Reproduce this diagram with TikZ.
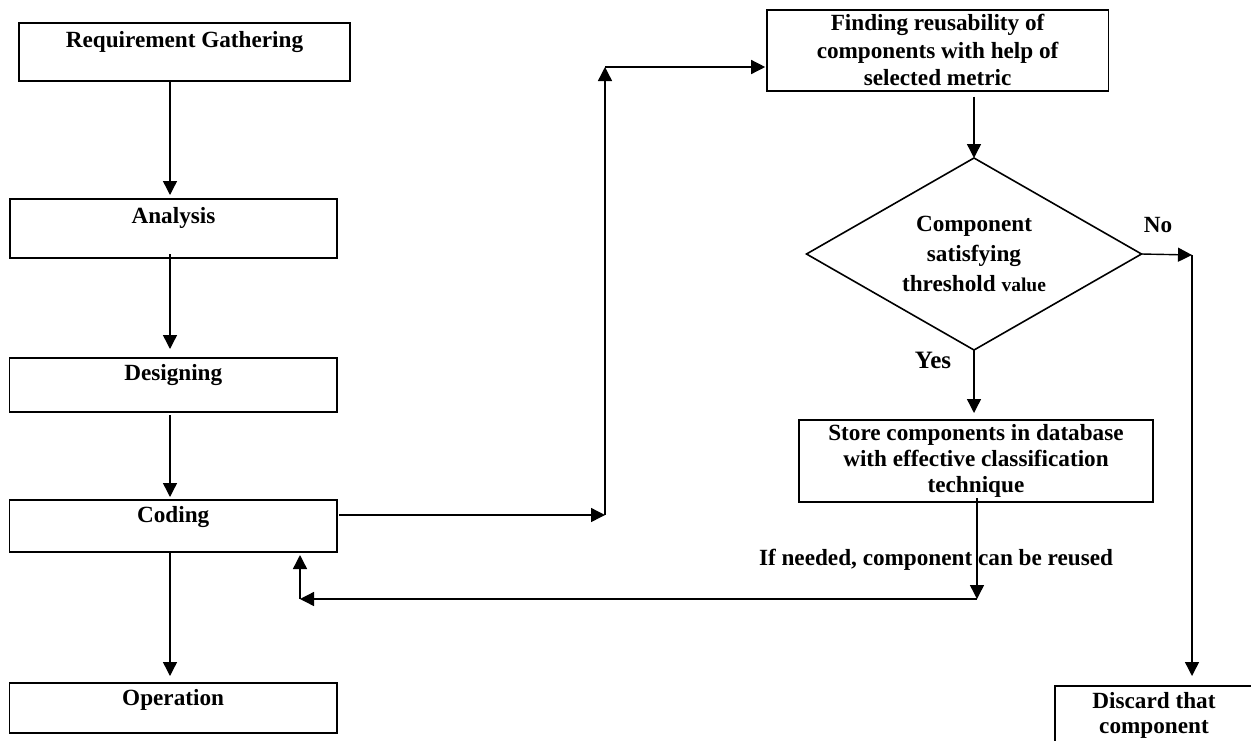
\documentclass[tikz,border=0pt]{standalone}
\usepackage{fontspec}
\setmainfont{Liberation Serif}
\usetikzlibrary{arrows.meta,shapes.geometric,calc}
\begin{document}
\begin{tikzpicture}[x=1pt,y=-1pt,
  every node/.style={font=\fontsize{23.2}{27.5}\selectfont\bfseries, text=black},
  sbox/.style={draw, line width=1.6pt, rectangle, inner xsep=0pt, inner ysep=0pt, outer sep=0pt, anchor=north west},
  mbox/.style={sbox, align=center},
  arr/.style={line width=1.4pt, -{Triangle[length=14pt,width=14pt]}},
]
\useasboundingbox (0,0) rectangle (1251,740);

% left column
\node[sbox, minimum width=331pt, text height=25pt, text depth=33pt] (req) at (19,22.7) {Requirement Gathering};
\node[sbox, minimum width=327pt, text height=24.5pt, text depth=34.5pt] (ana) at (10,199) {Analysis};
\node[sbox, minimum width=327.5pt, text height=22.5pt, text depth=31.5pt] (des) at (9.5,358) {Designing};
\node[sbox, minimum width=327.5pt, text height=22.7pt, text depth=29.3pt] (cod) at (9.5,500) {Coding};
\node[sbox, minimum width=327.7pt, text height=22.4pt, text depth=27.6pt] (op) at (9.3,683) {Operation};

% right part
\node[mbox, minimum width=341.8pt, minimum height=80.7pt] (find) at (766.7,10) {Finding reusability of\\components with help of\\selected metric};
\node[draw, diamond, line width=1.6pt, inner sep=0pt, outer sep=0pt, minimum width=335pt, minimum height=192pt, aspect=1.745, align=center, font=\fontsize{23.2}{30}\selectfont\bfseries] (dia) at (974,254) {Component\\satisfying\\threshold {\fontsize{19.5}{30}\selectfont value}};
\node[mbox, minimum width=354pt, minimum height=82pt, font=\fontsize{23.2}{25.7}\selectfont\bfseries] (store) at (799,420) {Store components in database\\with effective classification\\technique};
\node[mbox, minimum width=198pt, minimum height=58pt, font=\fontsize{23.2}{25}\selectfont\bfseries] (dis) at (1055,686) {Discard that\\component};

% labels
\node[anchor=base] (no) at (1158,232) {No};
\node[anchor=base, font=\fontsize{25}{30}\selectfont\bfseries] (yes) at (933,368) {Yes};
\node[anchor=base] (reuse) at (936,565) {If needed, component can be reused};

% helper coordinates
\coordinate (colx) at (170,0);
\coordinate (c1) at (605,515);
\coordinate (c2) at (605,67);
\coordinate (c3) at (1192,255);
\coordinate (c4) at (977,599);
\coordinate (c5) at (300,599);

% connectors
\draw[arr, shorten >=4pt] (req.south -| colx) -- (ana.north -| colx);
\draw[arr, shorten >=9pt, shorten <=-4pt] (ana.south -| colx) -- (des.north -| colx);
\draw[arr, shorten >=3pt, shorten <=3pt] (des.south -| colx) -- (cod.north -| colx);
\draw[arr, shorten >=7pt] (cod.south -| colx) -- (op.north -| colx);
\draw[arr, shorten <=2pt] (cod.east |- c1) -- (c1);
\draw[arr] (c1) -- (c2);
\draw[arr, shorten >=1.5pt] (c2) -- (c2 -| find.west);
\draw[arr, shorten <=6pt] (find.south -| dia.north) -- (dia.north);
\draw[arr, shorten >=7pt] (dia.south) -- (store.north -| dia.south);
\draw[arr] (dia.east) -- (c3);
\draw[arr, shorten >=10pt] (c3) -- (c3 |- dis.north);
\draw[arr, shorten <=-4pt] (store.south -| c4) -- (c4);
\draw[arr] (c4) -- (c5);
\draw[arr, shorten >=3pt] (c5) -- (cod.south -| c5);
\end{tikzpicture}
\end{document}
